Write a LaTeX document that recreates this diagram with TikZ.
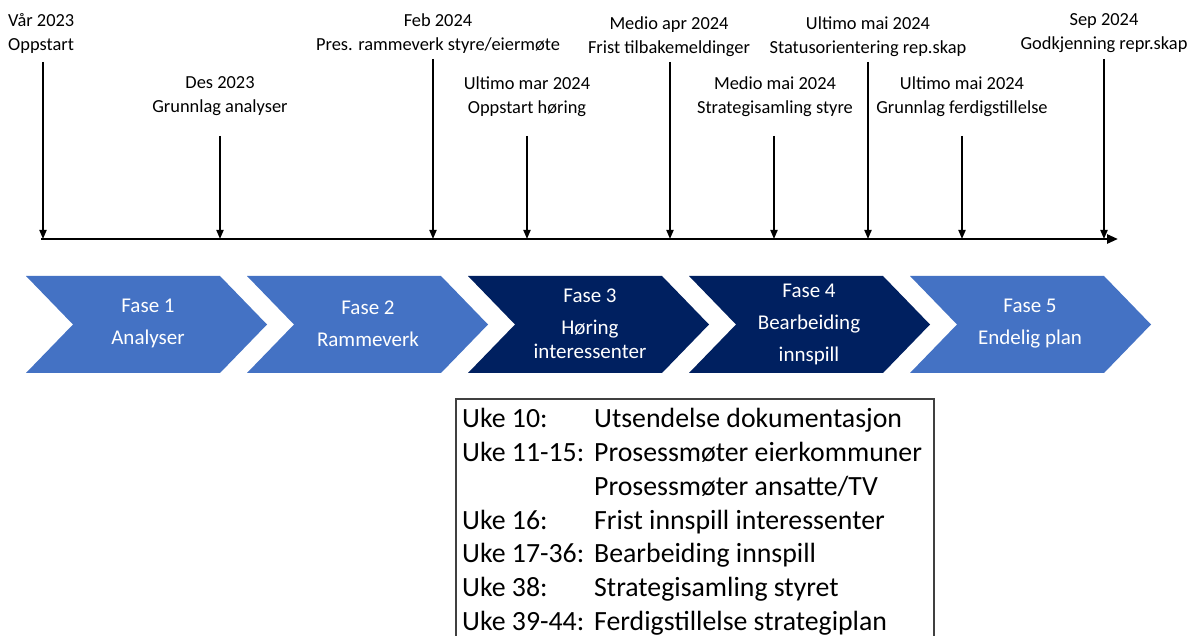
\documentclass[tikz,border=0pt]{standalone}
\usepackage{fontspec}
\setmainfont{Carlito}
\usetikzlibrary{arrows.meta}
\definecolor{lightblu}{HTML}{4472C4}
\definecolor{navyblu}{HTML}{002060}
\definecolor{boxgray}{HTML}{404040}
\tikzset{
  lbl/.style={font=\fontsize{18.4}{24}\selectfont, align=center, inner sep=0pt},
  tickarrow/.style={line width=1.8pt, -{Triangle[width=7pt,length=9pt]}},
  axisline/.style={line width=2.6pt, -{Triangle[width=9pt,length=11pt]}},
  ctext/.style={font=\fontsize{21}{32}\selectfont, text=white, align=center, inner sep=0pt},
  boxtext/.style={font=\fontsize{27.8}{32}\selectfont, anchor=base west, inner sep=0pt},
}
\begin{document}
\begin{tikzpicture}[x=1pt,y=-1pt]
\useasboundingbox (0,0) rectangle (1192,636);
\fill[white] (0,0) rectangle (1192,636);

% axis
\coordinate (axL) at (41,239);
\coordinate (axR) at (1118,239);
\draw[axisline] (axL) -- (axR);

% tick arrows
\foreach \n/\x/\y in {1/43/62, 2/220/136, 3/433/59, 4/527/136, 5/670/62, 6/774/136, 7/868/62, 8/962/136, 9/1104/59} {
  \coordinate (top\n) at (\x,\y);
  \coordinate (bot\n) at (\x,239);
  \draw[tickarrow] (top\n) -- (bot\n);
}

% labels
\node[lbl, align=left, anchor=west] (l1) at (8,33) {Vår 2023\\Oppstart};
\node[lbl] (l2) at (220,96) {Des 2023\\Grunnlag analyser};
\node[lbl] (l3) at (438,33.5) {Feb 2024\\Pres. rammeverk styre/eiermøte};
\node[lbl] (l4) at (527,96.5) {Ultimo mar 2024\\Oppstart høring};
\node[lbl] (l5) at (669,37) {Medio apr 2024\\Frist tilbakemeldinger};
\node[lbl] (l6) at (775,97) {Medio mai 2024\\Strategisamling styre};
\node[lbl] (l7) at (868,36.5) {Ultimo mai 2024\\Statusorientering rep.skap};
\node[lbl] (l8) at (962,97) {Ultimo mai 2024\\Grunnlag ferdigstillelse};
\node[lbl] (l9) at (1104,33.5) {Sep 2024\\Godkjenning repr.skap};

% chevrons
\foreach \k/\col in {0/lightblu,1/lightblu,2/navyblu,3/navyblu,4/lightblu} {
  \pgfmathsetmacro\L{26+221*\k}
  \fill[\col] (\L,276) -- ++(194,0) -- ++(47,48.5) -- ++(-47,48.5) -- ++(-194,0) -- ++(47,-48.5) -- cycle;
}
\node[ctext] (f1) at (148,323.5) {Fase 1\\Analyser};
\node[ctext] (f2) at (368,323.5) {Fase 2\\Rammeverk};
\node[ctext] (f3) at (590,324) {Fase 3\\Høring\\[-8pt]interessenter};
\node[ctext] (f4) at (809,324) {Fase 4\\Bearbeiding\\innspill};
\node[ctext] (f5) at (1030,323.5) {Fase 5\\Endelig plan};

% box
\draw[boxgray, line width=1.3pt] (456,640) -- (456,399) -- (934,399) -- (934,640);
\foreach \i/\a/\b in {0/{Uke 10:}/{Utsendelse dokumentasjon}, 1/{Uke 11-15:}/{Prosessmøter eierkommuner}, 2/{}/{Prosessmøter ansatte/TV}, 3/{Uke 16:}/{Frist innspill interessenter}, 4/{Uke 17-36:}/{Bearbeiding innspill}, 5/{Uke 38:}/{Strategisamling styret}, 6/{Uke 39-44:}/{Ferdigstillelse strategiplan}} {
  \node[boxtext] (ua\i) at (462,428+33.7*\i) {\a};
  \node[boxtext] (ub\i) at (594,428+33.7*\i) {\b};
}
\end{tikzpicture}
\end{document}
